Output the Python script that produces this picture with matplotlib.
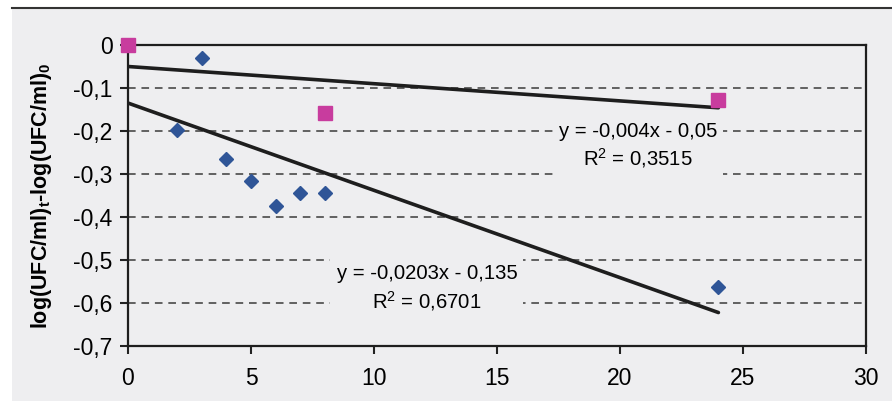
import numpy as np
import matplotlib.pyplot as plt
from matplotlib.patches import Rectangle
from matplotlib.lines import Line2D

plt.rcParams['font.family'] = ['Liberation Sans', 'DejaVu Sans']
plt.rcParams['mathtext.fontset'] = 'custom'
plt.rcParams['mathtext.rm'] = 'Liberation Sans'
plt.rcParams['mathtext.bf'] = 'Liberation Sans:bold'

# series 1 (blue diamonds), the point at 0 sits under the pink square
x_blue = [0, 2, 3, 4, 5, 6, 7, 8, 24]
y_blue = [0, -0.198, -0.03, -0.265, -0.316, -0.374, -0.344, -0.344, -0.563]
# series 2 (pink squares)
x_pink = [0, 8, 24]
y_pink = [0, -0.158, -0.128]

# trend lines as printed on the chart
slopes = [-0.0203, -0.004]
intercepts = [-0.135, -0.05]
eq_labels = ["y = -0,0203x - 0,135\nR$^2$ = 0,6701",
             "y = -0,004x - 0,05\nR$^2$ = 0,3515"]

x_ticks = [0, 5, 10, 15, 20, 25, 30]
y_ticks = [0, -0.1, -0.2, -0.3, -0.4, -0.5, -0.6, -0.7]
y_ticklabels = ["0", "-0,1", "-0,2", "-0,3", "-0,4", "-0,5", "-0,6", "-0,7"]

bg = '#eeeef0'
fig = plt.figure(figsize=(8.92, 4.01), dpi=100, facecolor='white')
fig.patches.append(Rectangle((12/892, 0), 1, 1 - 8/401, transform=fig.transFigure,
                             facecolor=bg, edgecolor='none', zorder=-10))
fig.lines.append(Line2D([12/892, 1], [1 - 8/401, 1 - 8/401], transform=fig.transFigure,
                        color='#333333', lw=1.5))

ax = fig.add_axes([128/892, 1 - 346/401, (866 - 128)/892, (346 - 45)/401])
ax.set_facecolor(bg)

for yv in y_ticks[1:-1]:
    ax.axhline(yv, color='#3a3a3a', lw=1.1, ls=(0, (5, 3.8)), zorder=1)

xs = np.array([0, 24])
for s, b in zip(slopes, intercepts):
    ax.plot(xs, s * xs + b, color='#1e1e1e', lw=2.6, solid_capstyle='round', zorder=4)

ax.plot(x_blue, y_blue, ls='none', marker='D', ms=7.5, color='#2f5597', zorder=5, clip_on=False)
ax.plot(x_pink, y_pink, ls='none', marker='s', ms=10.5, color='#c83c9e', zorder=6, clip_on=False)

box = dict(boxstyle='square,pad=0.3', facecolor=bg, edgecolor='none')
ax.text(12.15, -0.566, eq_labels[0], ha='center', va='center', fontsize=14.6,
        linespacing=1.35, bbox=box, zorder=3)
ax.text(20.73, -0.235, eq_labels[1], ha='center', va='center', fontsize=14.6,
        linespacing=1.3, bbox=box, zorder=3)

ax.set_xlim(0, 30)
ax.set_ylim(-0.7, 0)
ax.set_xticks(x_ticks)
ax.set_yticks(y_ticks)
ax.set_yticklabels(y_ticklabels)
ax.tick_params(axis='both', labelsize=16.5, length=6, width=1.5, color='#222222', direction='out')
ax.tick_params(axis='x', pad=9)
ax.tick_params(axis='y', pad=5)
for sp in ax.spines.values():
    sp.set_linewidth(1.6)
    sp.set_color('#1e1e1e')

ax.set_ylabel(r'log(UFC/ml)$_\mathbf{t}$-log(UFC/ml)$_\mathbf{0}$', fontsize=15.5,
              fontweight='bold')
ax.yaxis.set_label_coords(-0.100, 0.5)

fig.savefig('out.png', dpi=100, facecolor=fig.get_facecolor())
